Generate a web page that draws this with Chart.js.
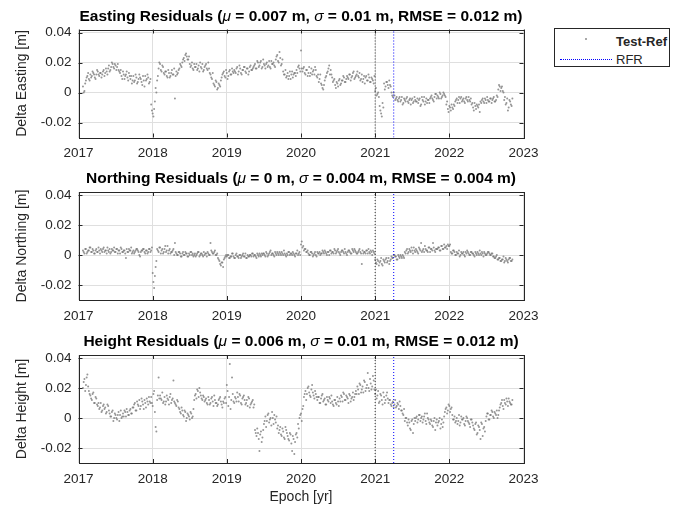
<!DOCTYPE html>
<html>
<head>
<meta charset="utf-8">
<script src="https://cdn.jsdelivr.net/npm/chart.js@4"></script>
<style>
  html,body{margin:0;padding:0;background:#fff;}
  #wrap{position:relative;width:676px;height:509px;overflow:hidden;font-family:'Liberation Sans',Arial,Helvetica,sans-serif;color:#262626;}
  canvas{position:absolute;left:0;}
  #legend{position:absolute;left:554px;top:28px;width:116px;height:39px;border:1px solid #262626;background:#fff;box-sizing:border-box;}
  #legend .dot{position:absolute;left:30px;top:9px;width:2px;height:2px;border-radius:1px;background:#8c8c8c;}
  #legend .rfr{position:absolute;left:5px;top:30px;width:52px;border-top:1px dotted #0000ff;}
  #legend .t{position:absolute;left:61px;font-size:13px;line-height:15px;white-space:nowrap;color:#262626;}
</style>
</head>
<body>
<div id="wrap">
  <canvas id="pE" width="676" height="163" style="top:0"></canvas>
  <canvas id="pN" width="676" height="163" style="top:163px"></canvas>
  <canvas id="pH" width="676" height="183" style="top:326px"></canvas>
  <div id="legend">
    <div class="dot"></div><div class="t" style="top:5px;font-weight:bold">Test-Ref</div>
    <div class="rfr"></div><div class="t" style="top:23px">RFR</div>
  </div>
</div>
<script>
// ── data (mm). Two interleaved sample sets: A at startEpoch + i*stepYr, B offset by half a step ──
const startEpoch = 2017.06;
const stepYr = 0.02;

const eastingMmA = [
  4, 1, 8, 11, 9,
  12, 11, 13, 10, 12, 14, 11, 13, 12, 15, 13, 14,
  16, 14, 17, 19, 16, 18, 17, 15,
  13, 11, 14, 9, 12, 10, 13,
  9, 6, 11, 8, 10, 7, 12, 9, 5, 8,
  11, 9, 10, 7,
  -8, -14, -11, 3, 8,
  16, 19, 14, 17,
  12, 14, 10, 13, 11, 15, 12, -4, 14, 13,
  16, 18, 20, 23, 25, 24, 22, 19,
  18, 16, 19, 17, 15, 18, 20, 16, 14, 17, 19, 15, 16,
  12, 9, 6, 4, 7, 3, 5, 8,
  12, 14, 10, 13, 11, 15, 12, 14,
  15, 13, 17, 14, 16, 12, 15, 17, 13, 16, 14, 18, 15,
  17, 19, 16, 20, 18, 21, 17, 19, 16, 20, 18, 17, 21, 19, 18,
  22, 25, 20, 23, 19,
  14, 12, 10, 13, 11, 9, 14, 12, 13,
  15, 17, 16, 28,
  14, 17, 12, 15, 13, 11, 16, 14, 12, 15,
  10, 7, 12, 5, 2, 8, 11, 14, 18,
  15, 10, 8, 5, 7, 4, 9, 6,
  8, 10, 7, 11, 9, 12, 10, 13, 9, 11,
  14, 10, 8, 12, 9, 6, 11, 8, 10, 7, 9, 6,
  1, -2, 0,
  -9, -14, -7,
  6, 4, 7, 3, 5,
  0, -3, -2, -4,
  -5, -4, -6, -3, -7, -5, -4, -6, -5, -8, -4, -6, -5,
  -6, -7, -4, -8, -5, -3, -6, -7, -5, -4, -2, -5, -3, -1,
  -2, -4, -1, -3, 0, -2,
  -8, -11, -9, -12, -10, -8,
  -6, -4, -5, -7, -3, -5, -6, -4, -5, -3, -6,
  -8, -10, -7, -11, -9, -8, -6,
  -5, -6, -4, -7, -5, -6, -4, -5, -3, -6, -2,
  2, 4, 3, 1,
  -5, -8, -4, -10, -6, -9
];
const eastingMmB = [
  0, 6, 10, 13, 8,
  10, 14, 12, 9, 15, 12, 13, 10, 14, 11, 16, 12,
  18, 15, 20, 17, 19, 15, 19, 14,
  15, 9, 12, 11, 14, 8, 11,
  11, 8, 7, 12, 6, 9, 10, 7, 11, 4,
  8, 12, 6, 9,
  -12, -16, -6, 0, 11,
  20, 15, 18, 13,
  14, 11, 15, 10, 13, 12, 16, 11, 12, 15,
  19, 17, 22, 21, 26, 22, 24, 17,
  20, 15, 17, 19, 16, 14, 17, 19, 15, 18, 16, 20, 13,
  10, 13, 5, 8, 2, 6, 4, 10,
  13, 11, 15, 9, 14, 12, 16, 13,
  14, 16, 12, 18, 13, 15, 17, 14, 16, 12, 17, 15, 16,
  18, 16, 21, 17, 20, 16, 22, 18, 19, 17, 21, 16, 19, 20, 17,
  24, 21, 27, 18, 22,
  12, 15, 11, 9, 14, 12, 10, 13, 11,
  13, 18, 14, 16,
  16, 13, 15, 11, 17, 13, 12, 15, 17, 11,
  12, 9, 6, 3, 5, 10, 13, 16, 12,
  12, 7, 9, 3, 6, 8, 5, 8,
  11, 7, 9, 10, 12, 8, 11, 14, 10, 12,
  11, 13, 9, 7, 11, 10, 8, 12, 7, 10, 8, 11,
  3, -1, -3,
  -12, -16, -10,
  2, 7, 5, 8, 4,
  -2, 0, -5, -3,
  -6, -3, -5, -8, -4, -6, -3, -7, -4, -5, -7, -3, -6,
  -4, -5, -9, -3, -6, -8, -4, -5, -7, -3, -4, -6, -1, -4,
  -3, 0, -4, -2, -1, -3,
  -6, -13, -10, -8, -11, -9,
  -5, -7, -3, -4, -6, -4, -7, -3, -6, -5, -4,
  -7, -12, -9, -8, -10, -13, -7,
  -4, -7, -5, -3, -6, -4, -7, -4, -6, -5, -3,
  5, 1, 4, 0,
  -3, -7, -12, -5, -8, -4
];

const northingMmA = [
  3, 1, 4, 2, 3, 5, 2, 3, 1, 4, 2, 3, 4, 2, 5, 3, 1, 3, 4, 2, 3, 5, 2, 4,
  3, 1, 4, 2, 3, -2, 2, 4, 3, 1, 3, 2, 4, 3, 0, 2, 3, 4, 1, 3, 2, 4, 3,
  -12, -22, -8,
  4, 2, 5, 3, 1, 4, 2, 6, 3, 1, 2, 4, 8,
  1, 0, 2, -1, 1, 0, 2, 1, -1, 0, 2, 1, 0, -1, 1, 2, 0, 1, -1, 0, 1, 2, 0,
  8, 2, 1, 3, 0,
  -2, -4, -7, -5, -3, -1,
  -1, 0, -2, -1, 1, -2, 0, -1, -2, 0, -1, 1, -1, -2, 0, -1, 0, 1, -1, 0, -2, 0, 1, -1,
  0, 1, -1, 1, 0, 2, 0, 1, -1, 1, 2, 0, 1, 2, 0, 1, -1, 0, 2, 1, 0, 1, -1, 1, 0, 2,
  7, 5, 3, 4, 2,
  1, 0, 2, -1, 1, 0, 2, 1, 0, 1, 2, 3, 1, 2, 0, 3, 2, 1, 3, 2, 4, 1, 2,
  3, 1, 2, 0, 3, 2, 1, 3, 4, 2, 1, 3, 2, -6, 1, 2, 3, 1, 2, 3, 0, 2,
  -3, -6, -4, -5, -2, -7, -4, -3, -5, -2, -4,
  -1, -2, 0, -1, -3, -1, 0, -2, -1,
  2, 3, 1, 4, 2, 3, 5, 2, 3, 1, 4, 8, 3, 2, 4, 3, 5, 2, 4, 8, 3, 4,
  4, 5, 3, 6, 4, 5, 6, 7, 6,
  2, 1, 3, 0, 2, 1, -1, 2, 1, 0, 2, 3, 1, 0, 2, 1, -1, 1, 2, 0, 1, 2, -1, 1, 0, 2, 1, 0, 1,
  -1, -2, 0, -3, -2, -4, -3, -5, -2, -4, -3, -2, -4
];
const northingMmB = [
  2, 4, 1, 3, 5, 2, 4, 1, 3, 2, 5, 1, 3, 4, 2, 3, 5, 2, 1, 4, 3, 2, 4, 1,
  3, 5, 2, 3, 1, 4, 2, 3, 5, 2, 1, 3, 4, 2, -1, 3, 4, 2, 3, 1, 4, 2, 5,
  -18, -14, -4,
  3, 5, 1, 4, 2, 6, 3, 1, 4, 2, 3, 0, 2,
  0, 2, 1, -1, 2, 0, 1, -1, 1, 2, 0, -1, 1, 0, 2, -1, 1, 0, 2, 1, -1, 1, 0,
  3, 1, 2, 0, 1,
  -3, -6, -5, -8, -2, 0,
  0, -2, -1, 1, -1, -2, 1, -1, 0, -2, 0, -1, 1, -2, -1, 0, -1, 1, 0, -1, 1, -1, 0, 1,
  1, 0, 2, -1, 1, 3, 1, 0, 2, 0, 1, 2, 0, 1, 3, 0, 1, 2, 0, 1, 2, 0, 1, 3, 1, 0,
  9, 6, 4, 2, 3,
  0, 2, 1, 0, 2, -1, 1, 2, 1, 3, 1, 2, 0, 2, 3, 1, 2, 4, 1, 3, 2, 0, 3,
  2, 4, 1, 2, 3, 1, 4, 2, 3, 1, 2, 4, 1, 3, 2, 1, 3, 4, 1, 2, 3, 1,
  -5, -3, -7, -4, -6, -3, -5, -2, -4, -6, -3,
  -2, 0, -1, -3, 0, -2, -1, 0, -2,
  1, 4, 2, 3, 5, 1, 3, 4, 2, 5, 3, 2, 4, 6, 3, 2, 5, 4, 3, 5, 2, 4,
  5, 3, 6, 4, 7, 5, 4, 6, 7,
  1, 3, 2, 0, 1, 3, 0, 1, 2, -1, 1, 2, 0, 2, 1, 0, 2, 0, 1, 3, 0, 1, 2, 0, 1, 2, 0, 1, -1,
  -2, -1, -3, -2, -4, -3, -1, -4, -3, -5, -2, -4, -3
];

const heightMmA = [
  20, 26, 22, 29, 18,
  15, 12, 17, 10, 13,
  8, 6, 10, 5, 9, 7, 4, 8,
  3, 1, 5, 0, 2, -1, 4, 2, 0,
  3, 5, 1, 4, 2, 6, 3,
  7, 10, 5, 9, 12, 8, 11, 6, 10, 13, 9, 11,
  14, 8, 18, -6, 12, 27,
  15, 12, 10, 14, 11, 13, 9, 16, 12, 25, 10, 8, 11,
  6, 3, 5, 1, 4, 0, 2, -1, 3, 1,
  12, 16, 19, 14, 17, 13, 15,
  11, 13, 9, 12, 10, 14, 8, 12, 10, 9, 13, 11, 7, 10,
  14, 22, 8, 36, 12, 16, 10,
  13, 17, 11, 15, 9, 14, 12, 10, 8, 13, 9, 11, 7,
  -8, -12, -10, -22, -9, -13,
  -4, 1, -2, 3, -1, -5, 0, 2, -3,
  -7, -10, -6, -12, -9, -14, -8,
  -12, -15, -11, -22, -14, -16, -10,
  -4, 0, 3, 6,
  14, 18, 16, 21, 15, 19, 17, 13, 16,
  12, 14, 10, 15, 11, 13, 9, 12, 14, 10, 11, 8, 12, 9, 11,
  13, 15, 11, 16, 12, 14, 10, 15, 13, 17, 14,
  18, 21, 16, 22, 19, 17, 24, 20, 30, 18, 23,
  21, 25,
  16, 13, 18, 11, 15, 9, 14, 12, 17,
  10, 12, 8, 11, 9, 7, 10, 6, 8,
  5, 2, -2, 0, -5, -3, -8, -1, -4,
  -2, 1, -1, 2, 0, -3, 1, -2, 3,
  -1, -4, -2, -6, 0, -3, -5, -2, -7, -1, -3,
  4, 7, 5, 8, 6,
  2, -1, -3, 0, -2, -5, 1, -1, -4, -2, 0, -3, -6, -1,
  -5, -8, -3, -10, -6, -14, -4, -7, -9,
  1, 3, -1, 2, 4, 0, 3, 5, 2,
  7, 10, 8, 12, 9, 11, 13, 10, 9
];
const heightMmB = [
  24, 18, 27, 21, 16,
  13, 16, 10, 14, 9,
  10, 7, 4, 8, 6, 3, 9, 5,
  1, 4, -2, 3, 0, 2, -2, 5, 1,
  1, 4, 6, 2, 5, 3, 7,
  9, 5, 11, 8, 6, 13, 9, 12, 7, 11, 14, 10,
  10, 16, 4, -9, 15, 13,
  13, 17, 11, 9, 15, 12, 14, 10, 13, 11, 9, 12, 7,
  4, 7, 2, 5, -2, 3, 1, 4, 0, 6,
  15, 13, 18, 20, 15, 12, 14,
  12, 10, 14, 9, 13, 11, 15, 10, 8, 12, 14, 9, 11, 13,
  10, 18, 14, 6, 27, 11, 14,
  11, 14, 16, 10, 13, 15, 9, 12, 14, 7, 10, 12, 9,
  -10, -7, -14, -11, -16, -8,
  -2, -6, 2, -3, 0, 4, -4, -1, 1,
  -5, -8, -11, -7, -13, -6, -10,
  -14, -10, -17, -12, -24, -11, -13,
  -7, 2, -2, 8,
  16, 12, 20, 17, 14, 22, 15, 18, 14,
  14, 10, 13, 16, 12, 9, 14, 11, 13, 15, 9, 12, 10, 14, 8,
  11, 14, 17, 12, 15, 13, 16, 11, 14, 12, 16,
  16, 19, 23, 17, 21, 25, 18, 22, 20, 26, 19,
  28, 19,
  19, 15, 10, 16, 12, 17, 10, 15, 13,
  12, 9, 10, 7, 12, 8, 9, 11, 5,
  3, 6, 0, -3, -1, -7, -2, -10, 0,
  0, -3, 2, -2, 1, -1, 3, -4, 0,
  -3, -1, -5, -2, -8, -1, -3, 0, -4, -6, 1,
  6, 3, 9, 4, 7,
  -1, 1, -2, -4, 2, -3, -1, 0, -5, 1, -2, -4, -1, -3,
  -7, -4, -11, -5, -8, -3, -12, -6, -2,
  3, -1, 2, 5, 1, 4, 2, 0, 5,
  9, 12, 6, 10, 13, 8, 11, 9, 12
];

const xTicks = [2017, 2018, 2019, 2020, 2021, 2022, 2023];
const yTicks = [-0.02, 0, 0.02, 0.04];
const xMin = 2017, xMax = 2023;
const yMin = -0.03, yMax = 0.042;
const refEpoch = 2021.0;   // black dotted
const rfrEpoch = 2021.25;  // RFR, blue dotted

const FONT = "'Liberation Sans', Arial, Helvetica, sans-serif";
const INK = '#262626';

// ── text, frame and inward ticks ──
const panelText = {
  id: 'panelText',
  afterDraw(chart, args, o) {
    const {ctx, chartArea: a} = chart;
    const xs = chart.scales.x, ys = chart.scales.y;
    ctx.save();
    // frame
    ctx.strokeStyle = INK; ctx.lineWidth = 1;
    ctx.strokeRect(Math.round(a.left) + 0.5, Math.round(a.top) + 0.5, Math.round(a.right - a.left), Math.round(a.bottom - a.top));
    ctx.beginPath();
    xTicks.forEach(v => {
      const px = Math.round(xs.getPixelForValue(v)) + 0.5;
      ctx.moveTo(px, a.bottom); ctx.lineTo(px, a.bottom - 4);
      ctx.moveTo(px, a.top); ctx.lineTo(px, a.top + 4);
    });
    yTicks.forEach(v => {
      const py = Math.round(ys.getPixelForValue(v)) + 0.5;
      ctx.moveTo(a.left, py); ctx.lineTo(a.left + 4, py);
      ctx.moveTo(a.right, py); ctx.lineTo(a.right - 4, py);
    });
    ctx.stroke();
    // title with italic greek letters
    ctx.fillStyle = '#000';
    ctx.textBaseline = 'alphabetic';
    const fonts = {b: 'bold 15.5px ' + FONT, i: 'italic 15.5px ' + FONT};
    let w = 0;
    o.title.forEach(([t, f]) => { ctx.font = fonts[f]; w += ctx.measureText(t).width; });
    let x = (a.left + a.right) / 2 - w / 2;
    o.title.forEach(([t, f]) => { ctx.font = fonts[f]; ctx.textAlign = 'left'; ctx.fillText(t, x, a.top - 9); x += ctx.measureText(t).width; });
    // y label
    ctx.fillStyle = INK;
    ctx.font = '14px ' + FONT;
    ctx.textAlign = 'center';
    ctx.textBaseline = 'middle';
    ctx.save();
    ctx.translate(22, (a.top + a.bottom) / 2);
    ctx.rotate(-Math.PI / 2);
    ctx.fillText(o.ylabel, 0, 0);
    ctx.restore();
    if (o.xlabel) ctx.fillText(o.xlabel, (a.left + a.right) / 2, a.bottom + 34);
    ctx.restore();
  }
};

function makePanel(id, valuesA, valuesB, top, title, ylabel, xlabel) {
  const canvas = document.getElementById(id);
  const H = canvas.height;
  const pts = valuesA.map((v, i) => ({x: startEpoch + i * stepYr, y: v / 1000}))
    .concat(valuesB.map((v, i) => ({x: startEpoch + stepYr / 2 + i * stepYr, y: v / 1000})));
  const vline = (x, color, dash) => ({
    type: 'line', data: [{x: x, y: yMin}, {x: x, y: yMax}],
    borderColor: color, borderWidth: 1, borderDash: dash, pointRadius: 0, fill: false
  });
  new Chart(canvas, {
    type: 'scatter',
    data: {datasets: [
      vline(refEpoch, 'rgba(0,0,0,0.8)', [1, 2]),
      vline(rfrEpoch, '#0000ff', [1, 2]),
      {data: pts, pointRadius: 1, pointBorderWidth: 0, pointBackgroundColor: 'rgba(115,115,115,0.75)'}
    ]},
    options: {
      responsive: false, animation: false, devicePixelRatio: 1,
      layout: {padding: {top: top, right: 152.5, left: 0, bottom: 0}},
      plugins: {legend: {display: false}, tooltip: {enabled: false},
        panelText: {title: title, ylabel: ylabel, xlabel: xlabel}},
      scales: {
        x: {type: 'linear', min: xMin, max: xMax,
          afterBuildTicks: s => { s.ticks = xTicks.map(v => ({value: v})); },
          afterFit: s => { s.height = H - top - 108; },
          grid: {color: '#dfdfdf', drawTicks: false}, border: {display: false},
          ticks: {color: INK, font: {family: FONT, size: 13.5}, padding: 8, maxRotation: 0, callback: v => String(v)}},
        y: {type: 'linear', min: yMin, max: yMax,
          afterBuildTicks: s => { s.ticks = yTicks.map(v => ({value: v})); },
          afterFit: s => { s.width = 78.5; },
          grid: {color: '#dfdfdf', drawTicks: false}, border: {display: false},
          ticks: {color: INK, font: {family: FONT, size: 13.5}, padding: 7, callback: v => String(Math.round(v * 100) / 100)}}
      }
    },
    plugins: [panelText]
  });
}

makePanel('pE', eastingMmA, eastingMmB, 29.5,
  [['Easting Residuals (', 'b'], ['\u03bc', 'i'], [' = 0.007 m, ', 'b'], ['\u03c3', 'i'], [' = 0.01 m, RMSE = 0.012 m)', 'b']],
  'Delta Easting [m]');
makePanel('pN', northingMmA, northingMmB, 29,
  [['Northing Residuals (', 'b'], ['\u03bc', 'i'], [' = 0 m, ', 'b'], ['\u03c3', 'i'], [' = 0.004 m, RMSE = 0.004 m)', 'b']],
  'Delta Northing [m]');
makePanel('pH', heightMmA, heightMmB, 29,
  [['Height Residuals (', 'b'], ['\u03bc', 'i'], [' = 0.006 m, ', 'b'], ['\u03c3', 'i'], [' = 0.01 m, RMSE = 0.012 m)', 'b']],
  'Delta Height [m]', 'Epoch [yr]');
</script>
</body>
</html>
